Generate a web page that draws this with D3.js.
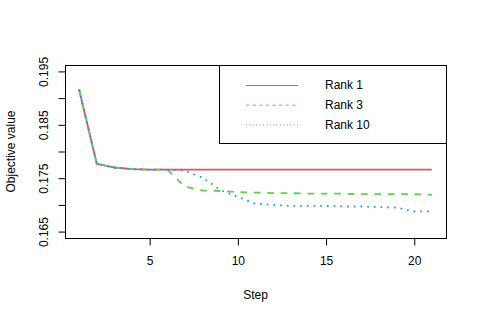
<!DOCTYPE html>
<html>
<head>
<meta charset="utf-8">
<script src="https://cdn.jsdelivr.net/npm/d3@7"></script>
<style>
	body { margin: 0; background: #fff; }
	svg text { font-family: "Liberation Sans", Arial, Helvetica, sans-serif; font-size: 12px; fill: #000; }
</style>
</head>
<body>
<div id="chart"></div>
<script>
// data
var steps = d3.range(1, 22);
var rank1 = [0.1916, 0.1777, 0.1770, 0.1767, 0.1766, 0.1766, 0.1766, 0.1766, 0.1766, 0.1766, 0.1766,
	0.1766, 0.1766, 0.1766, 0.1766, 0.1766, 0.1766, 0.1766, 0.1766, 0.1766, 0.1766];
var rank3 = [0.1916, 0.1777, 0.1770, 0.1767, 0.1766, 0.1766, 0.1734, 0.1727, 0.1726, 0.1724, 0.1723,
	0.1722, 0.1722, 0.1721, 0.1721, 0.1721, 0.1720, 0.1720, 0.1720, 0.1720, 0.1719];
var rank10 = [0.1916, 0.1777, 0.1770, 0.1767, 0.1766, 0.1766, 0.1764, 0.1751, 0.1728, 0.1715, 0.1702,
	0.1700, 0.1698, 0.1698, 0.1698, 0.1697, 0.1697, 0.1696, 0.1695, 0.1688, 0.1688];
var seriesNames = ["Rank 1", "Rank 3", "Rank 10"];
var xTicks = [5, 10, 15, 20];
var yTicks = [0.165, 0.170, 0.175, 0.180, 0.185, 0.190, 0.195];
var yTickLabels = ["0.165", "", "0.175", "", "0.185", "", "0.195"];

(function() {
	var width = 480,
		height = 320;
	var box = { left: 65, right: 446, top: 65, bottom: 238 };

	var series = [
		{ name: seriesNames[0], values: rank1, color: "#DF536B", dash: null, legDash: null },
		{ name: seriesNames[1], values: rank3, color: "#61D04F", dash: "6.7,6.7", legDash: "3.3,3.3" },
		{ name: seriesNames[2], values: rank10, color: "#2297E6", dash: "1.7,5", legDash: "0.9,2.5" }
	];

	// R style 4% padding
	var x = d3.scaleLinear().domain([1 - 0.8, 21 + 0.8]).range([box.left, box.right]);
	var y = d3.scaleLinear().domain([0.165 - 0.0012, 0.195 + 0.0012]).range([box.bottom, box.top]);

	var svg = d3.select("#chart").append("svg")
		.attr("width", width)
		.attr("height", height);

	var line = d3.line()
		.x(function(d, i) { return x(steps[i]); })
		.y(function(d) { return y(d); });

	// drawn in order, so later ranks sit on top
	svg.selectAll("path.series")
		.data(series)
		.enter().append("path")
		.attr("class", "series")
		.attr("d", function(d) { return line(d.values); })
		.attr("fill", "none")
		.attr("stroke", function(d) { return d.color; })
		.attr("stroke-width", 1.8)
		.attr("stroke-dasharray", function(d) { return d.dash; });

	// box
	svg.append("rect")
		.attr("x", box.left + 0.5)
		.attr("y", box.top + 0.5)
		.attr("width", box.right - box.left)
		.attr("height", box.bottom - box.top)
		.attr("fill", "none")
		.attr("stroke", "#000");

	// x axis
	var xAxis = d3.axisBottom(x).tickValues(xTicks).tickSize(7).tickPadding(11);
	var gx = svg.append("g")
		.attr("transform", "translate(0," + (box.bottom + 0.5) + ")")
		.call(xAxis);
	gx.select(".domain").remove();
	gx.selectAll("text").attr("font-size", 12).attr("font-family", null);

	// y axis
	var yAxis = d3.axisLeft(y).tickValues(yTicks).tickSize(7).tickFormat(function(d, i) { return yTickLabels[i]; });
	var gy = svg.append("g")
		.attr("transform", "translate(" + (box.left + 0.5) + ",0)")
		.call(yAxis);
	gy.select(".domain").remove();
	gy.selectAll("text")
		.attr("font-size", 12).attr("font-family", null)
		.attr("x", null).attr("dy", null)
		.attr("text-anchor", "middle")
		.attr("transform", "translate(" + (47 - box.left) + ",0) rotate(-90)");

	// titles
	svg.append("text")
		.attr("x", (box.left + box.right) / 2)
		.attr("y", 299)
		.attr("text-anchor", "middle")
		.text("Step");
	svg.append("text")
		.attr("transform", "translate(14.5," + ((box.top + box.bottom) / 2) + ") rotate(-90)")
		.attr("text-anchor", "middle")
		.text("Objective value");

	// legend
	var leg = svg.append("g");
	leg.append("rect")
		.attr("x", 219.5)
		.attr("y", box.top + 0.5)
		.attr("width", box.right - 219)
		.attr("height", 78)
		.attr("fill", "#fff")
		.attr("stroke", "#000");
	var item = leg.selectAll("g.item")
		.data(series)
		.enter().append("g")
		.attr("class", "item")
		.attr("transform", function(d, i) { return "translate(0," + (85 + i * 19.7) + ")"; });
	item.append("line")
		.attr("x1", 246).attr("x2", 298)
		.attr("y1", 0.5).attr("y2", 0.5)
		.attr("stroke", function(d) { return d.color; })
		.attr("stroke-width", 1)
		.attr("stroke-dasharray", function(d) { return d.legDash; });
	item.append("text")
		.attr("x", 325)
		.attr("y", 4.4)
		.text(function(d) { return d.name; });
})();
</script>
</body>
</html>
